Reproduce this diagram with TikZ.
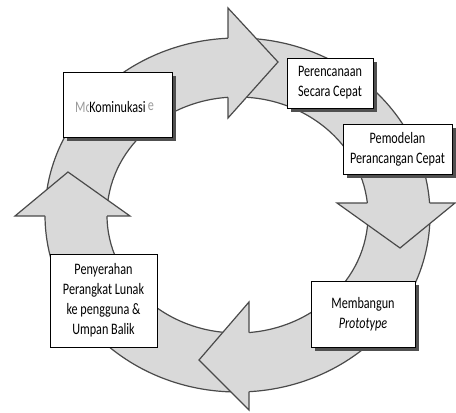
\documentclass[tikz,border=0pt]{standalone}
\usepackage{fontspec}
\setmainfont{Carlito}
\newfontfamily\stepfont[FakeStretch=0.76]{Carlito}
\usetikzlibrary{shadows}

\definecolor{ringgray}{HTML}{D9D9D9}
\definecolor{linegray}{HTML}{4A4A4A}
\definecolor{shadowgray}{HTML}{505050}
\definecolor{ghostgray}{HTML}{9A9A9A}

\tikzset{
    ring/.style={fill=ringgray, draw=linegray, line width=1.2pt},
    headfill/.style={fill=ringgray},
    headline/.style={draw=linegray, line width=1.2pt, line join=miter},
    steptext/.style={font=\stepfont\fontsize{16}{20}\selectfont},
    stepbox/.style={steptext, draw=black, fill=white, line width=0.8pt, inner sep=0pt,
        align=center},
    shadowbox/.style={stepbox, drop shadow={shadow xshift=3.5pt, shadow yshift=-3.5pt,
        fill=shadowgray, opacity=1}}
}

\begin{document}
\begin{tikzpicture}[x=1pt, y=-1pt]

    \useasboundingbox (0,0) rectangle (456,413);

    % Ring
    \path[ring, even odd rule]
        (237.5,215) ellipse [x radius=192.5pt, y radius=177pt]
        (237.5,215) ellipse [x radius=130.5pt, y radius=118pt];

    % Arrow heads: corner, ring point, tip, corner, ring point
    \foreach \ax/\ay/\sx/\sy/\tx/\ty/\bx/\by/\rx/\ry in {
        228/8/228/38.2/278/62/228/118/228/97.3,        % Top
        455/203/429.6/203/400/248/337/203/367.3/203,   % Right
        249/410/249/391.7/199/360/249/302/249/332.5,   % Bottom
        15/216/45/216/68/172/130/216/107/216           % Left
    }
    {
        \fill[headfill] (\ax,\ay) -- (\tx,\ty) -- (\bx,\by) -- cycle;
        \draw[headline] (\sx,\sy) -- (\ax,\ay) -- (\tx,\ty) -- (\bx,\by) -- (\rx,\ry);
    }

    % Steps
    \node[shadowbox, minimum width=109pt, minimum height=65pt] (komunikasi) at (117.5,104.5) {};
    \node[steptext, text=ghostgray, inner sep=0pt, anchor=west] (ghostleft) at (75,107) {Mo};
    \node[steptext, text=ghostgray, inner sep=0pt, anchor=east] (ghostright) at (154,107) {e};
    \node[steptext, fill=white, inner sep=0.5pt] (komtext) at (117.5,107) {Kominukasi};

    \node[shadowbox, minimum width=86pt, minimum height=50pt] (perencanaan) at (330,83)
        {Perencanaan\\Secara Cepat};
    \node[shadowbox, minimum width=109pt, minimum height=50pt] (pemodelan) at (397.5,149)
        {Pemodelan\\Perancangan Cepat};
    \node[shadowbox, minimum width=104pt, minimum height=66pt] (membangun) at (363,314)
        {Membangun\\\textit{Prototype}};
    \node[stepbox, minimum width=107pt, minimum height=93pt] (penyerahan) at (103.5,300.5)
        {Penyerahan\\Perangkat Lunak\\ke pengguna \&\\Umpan Balik};

\end{tikzpicture}
\end{document}
